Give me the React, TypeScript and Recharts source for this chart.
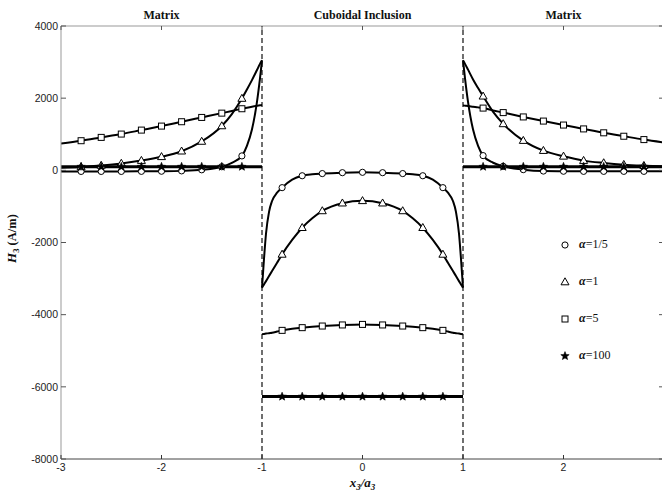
import React from "react";
import { ComposedChart, Line, XAxis, YAxis, ReferenceLine, Legend } from "recharts";

// x3/a3 sample points per region, and H3 (A/m) for each alpha
const LEFT_X = [-3, -2.8, -2.6, -2.4, -2.2, -2.0, -1.8, -1.6, -1.4, -1.3, -1.2, -1.15, -1.1, -1.05, -1.02, -1];
const LEFT_A1_5 = [-30, -30, -30, -30, -28, -25, -15, 15, 100, 210, 400, 680, 1130, 1900, 2550, 3050];
const LEFT_A1 = [75, 95, 135, 190, 270, 375, 530, 800, 1230, 1560, 1990, 2240, 2500, 2780, 2950, 3050];
const LEFT_A5 = [740, 821, 913, 1005, 1115, 1226, 1347, 1466, 1585, 1645, 1707, 1737, 1765, 1790, 1803, 1810];
const LEFT_A100 = [100, 100, 100, 100, 100, 100, 100, 100, 100, 100, 100, 100, 100, 100, 100, 100];

const MID_X = [-1, -0.98, -0.96, -0.93, -0.9, -0.85, -0.8, -0.7, -0.6, -0.5, -0.4, -0.2, 0, 0.2, 0.4, 0.5, 0.6, 0.7, 0.8, 0.85, 0.9, 0.93, 0.96, 0.98, 1];
const MID_A1_5 = [-3250, -2450, -1750, -1150, -850, -620, -480, -260, -150, -110, -90, -65, -55, -65, -90, -110, -150, -260, -480, -620, -850, -1150, -1750, -2450, -3250];
const MID_A1 = [-3250, -3160, -3070, -2930, -2790, -2560, -2330, -1930, -1590, -1330, -1125, -910, -845, -910, -1125, -1330, -1590, -1930, -2330, -2560, -2790, -2930, -3070, -3160, -3250];
const MID_A5 = [-4540, -4533, -4525, -4512, -4500, -4468, -4435, -4392, -4360, -4335, -4315, -4285, -4270, -4285, -4315, -4335, -4360, -4392, -4435, -4468, -4500, -4512, -4525, -4533, -4540];
const MID_A100 = [-6270, -6270, -6270, -6270, -6270, -6270, -6270, -6270, -6270, -6270, -6270, -6270, -6270, -6270, -6270, -6270, -6270, -6270, -6270, -6270, -6270, -6270, -6270, -6270, -6270];

const RIGHT_X = [1, 1.02, 1.05, 1.1, 1.15, 1.2, 1.3, 1.4, 1.6, 1.8, 2.0, 2.2, 2.4, 2.6, 2.8, 3];
const RIGHT_A1_5 = [3050, 2550, 1900, 1130, 680, 408, 210, 111, 19, -20, -25, -28, -28, -28, -28, -28];
const RIGHT_A1 = [3050, 2950, 2790, 2520, 2280, 2053, 1620, 1287, 824, 546, 388, 269, 205, 158, 130, 110];
const RIGHT_A5 = [1800, 1792, 1780, 1762, 1745, 1725, 1660, 1600, 1480, 1365, 1255, 1148, 1040, 945, 852, 770];
const RIGHT_A100 = [100, 100, 100, 100, 100, 100, 100, 100, 100, 100, 100, 100, 100, 100, 100, 100];

// where the symbols sit on the curves
const MARKER_X = [
  -2.8, -2.6, -2.4, -2.2, -2.0, -1.8, -1.6, -1.4, -1.2,
  -0.8, -0.6, -0.4, -0.2, 0, 0.2, 0.4, 0.6, 0.8,
  1.2, 1.4, 1.6, 1.8, 2.0, 2.2, 2.4, 2.6, 2.8,
];

const X_TICKS = [-3, -2, -1, 0, 1, 2, 3];
const X_LABELS = [-3, -2, -1, 0, 1, 2];
const Y_TICKS = [-8000, -6000, -4000, -2000, 0, 2000, 4000];
const REGION_AT = [-2, 0, 2];
const REGION_NAMES = ["Matrix", "Cuboidal Inclusion", "Matrix"];
const BOUNDARIES = [-1, 1];

const SERIES = [
  { key: "a1_5", label: "1/5", shape: "circle" },
  { key: "a1", label: "1", shape: "triangle" },
  { key: "a5", label: "5", shape: "square" },
  { key: "a100", label: "100", shape: "star" },
];

const buildRows = (xs: number[], a1_5: number[], a1: number[], a5: number[], a100: number[]) =>
  xs.map((x, i) => ({ x, a1_5: a1_5[i], a1: a1[i], a5: a5[i], a100: a100[i] }));

const REGIONS = [
  { id: "left", rows: buildRows(LEFT_X, LEFT_A1_5, LEFT_A1, LEFT_A5, LEFT_A100) },
  { id: "mid", rows: buildRows(MID_X, MID_A1_5, MID_A1, MID_A5, MID_A100) },
  { id: "right", rows: buildRows(RIGHT_X, RIGHT_A1_5, RIGHT_A1, RIGHT_A5, RIGHT_A100) },
];

const isMarker = (x: number) => MARKER_X.some((m) => Math.abs(m - x) < 1e-6);

const starPoints = (cx: number, cy: number, R: number, r: number) => {
  const pts: string[] = [];
  for (let i = 0; i < 10; i++) {
    const rad = i % 2 === 0 ? R : r;
    const a = -Math.PI / 2 + (i * Math.PI) / 5;
    pts.push(`${cx + rad * Math.cos(a)},${cy + rad * Math.sin(a)}`);
  }
  return pts.join(" ");
};

const Marker = ({ shape, cx, cy }: { shape: string; cx: number; cy: number }) => {
  if (shape === "circle")
    return <circle cx={cx} cy={cy} r={3.1} fill="#fff" stroke="#000" strokeWidth={1} />;
  if (shape === "triangle")
    return (
      <polygon
        points={`${cx},${cy - 4.2} ${cx - 4},${cy + 2.8} ${cx + 4},${cy + 2.8}`}
        fill="#fff"
        stroke="#000"
        strokeWidth={1}
      />
    );
  if (shape === "square")
    return <rect x={cx - 3} y={cy - 3} width={6} height={6} fill="#fff" stroke="#000" strokeWidth={1} />;
  return <polygon points={starPoints(cx, cy, 4.4, 1.9)} fill="#000" stroke="#000" strokeWidth={0.6} />;
};

const makeDot = (shape: string) => (p: any) => {
  const { cx, cy, payload, index } = p;
  if (!isMarker(payload.x)) return <g key={`d-${index}`} />;
  return <Marker key={`d-${index}`} shape={shape} cx={cx} cy={cy} />;
};

const tickFont = { fontFamily: "Liberation Sans, Arial, sans-serif", fontSize: 10.5, fill: "#222" };

const LeftTick = ({ x, y, payload }: any) => (
  <g>
    <line x1={x} x2={x + 5} y1={y} y2={y} stroke="#555" />
    <text x={x - 3} y={y} dy={3.7} textAnchor="end" {...tickFont}>
      {payload.value}
    </text>
  </g>
);

const RightTick = ({ x, y }: any) => <line x1={x - 5} x2={x} y1={y} y2={y} stroke="#555" />;

const BottomTick = ({ x, y, payload }: any) => (
  <g>
    <line x1={x} x2={x} y1={y} y2={y - 4} stroke="#333" />
    {X_LABELS.includes(payload.value) && (
      <text x={x} y={y + 12} textAnchor="middle" {...tickFont}>
        {payload.value}
      </text>
    )}
  </g>
);

const TopTick = ({ x, y, payload }: any) => {
  const idx = REGION_AT.indexOf(payload.value);
  return (
    <g>
      <line x1={x} x2={x} y1={y} y2={y + 4} stroke="#555" />
      {idx >= 0 && (
        <text
          x={x}
          y={y - 7}
          textAnchor="middle"
          fontFamily="Liberation Serif, Times New Roman, serif"
          fontWeight="bold"
          fontSize={12}
          fill="#111"
        >
          {REGION_NAMES[idx]}
        </text>
      )}
    </g>
  );
};

const XLabel = ({ viewBox }: any) => (
  <text
    x={viewBox.x + viewBox.width / 2}
    y={viewBox.y + 28}
    textAnchor="middle"
    fontFamily="Liberation Serif, Times New Roman, serif"
    fontWeight="bold"
    fontStyle="italic"
    fontSize={13}
    fill="#111"
  >
    x<tspan fontSize={9} dy={3}>3</tspan>
    <tspan dy={-3}>/a</tspan>
    <tspan fontSize={9} dy={3}>3</tspan>
  </text>
);

const YLabel = ({ viewBox }: any) => {
  const cx = 16;
  const cy = viewBox.y + viewBox.height / 2 - 4;
  return (
    <text
      x={cx}
      y={cy}
      transform={`rotate(-90 ${cx} ${cy})`}
      textAnchor="middle"
      fontFamily="Liberation Serif, Times New Roman, serif"
      fontWeight="bold"
      fontSize={12.5}
      fill="#111"
    >
      <tspan fontStyle="italic" fontSize={13}>H</tspan>
      <tspan fontSize={8.5} dy={3}>3</tspan>
      <tspan dy={-3}> (A/m)</tspan>
    </text>
  );
};

const LegendBox = () => (
  <div style={{ fontFamily: "Liberation Serif, Times New Roman, serif", fontSize: 12, color: "#111" }}>
    {SERIES.map((s) => (
      <div key={s.key} style={{ height: 37, display: "flex", alignItems: "center" }}>
        <svg width={12} height={12} style={{ marginRight: 8 }}>
          <Marker shape={s.shape} cx={6} cy={6} />
        </svg>
        <span>
          <i style={{ fontWeight: "bold" }}>α</i>={s.label}
        </span>
      </div>
    ))}
  </div>
);

export default function App() {
  return (
    <div style={{ position: "absolute", left: 0, top: 0, width: 662, height: 492, overflow: "hidden", background: "#fff" }}>
      <ComposedChart width={670} height={492} margin={{ top: 0, right: 0, bottom: 0, left: 1 }}>
        <XAxis
          dataKey="x"
          type="number"
          domain={[-3, 3]}
          ticks={X_TICKS}
          allowDataOverflow
          height={33}
          stroke="#444"
          tickSize={0}
          tickMargin={0}
          tick={<BottomTick />}
          label={<XLabel />}
        />
        <XAxis
          xAxisId="top"
          orientation="top"
          dataKey="x"
          type="number"
          domain={[-3, 3]}
          ticks={X_TICKS}
          allowDataOverflow
          height={26}
          stroke="#999"
          tickSize={0}
          tickMargin={0}
          tick={<TopTick />}
        />
        <YAxis
          type="number"
          domain={[-8000, 4000]}
          ticks={Y_TICKS}
          allowDataOverflow
          width={60}
          stroke="#999"
          tickSize={0}
          tickMargin={0}
          tick={<LeftTick />}
          label={<YLabel />}
        />
        <YAxis
          yAxisId="r"
          orientation="right"
          type="number"
          domain={[-8000, 4000]}
          ticks={Y_TICKS}
          allowDataOverflow
          width={6}
          stroke="#999"
          tickSize={0}
          tickMargin={0}
          tick={<RightTick />}
        />
        {BOUNDARIES.map((b) => (
          <ReferenceLine key={b} x={b} stroke="#222" strokeWidth={1.3} strokeDasharray="5 3" />
        ))}
        {REGIONS.flatMap((reg) =>
          SERIES.map((s) => (
            <Line
              key={`${reg.id}-${s.key}`}
              data={reg.rows}
              dataKey={s.key}
              type="monotone"
              stroke="#000"
              strokeWidth={s.shape === "star" ? 3 : 2}
              dot={makeDot(s.shape)}
              activeDot={false}
              isAnimationActive={false}
              legendType="none"
            />
          ))
        )}
        <Legend
          layout="vertical"
          align="center"
          verticalAlign="middle"
          content={<LegendBox />}
          wrapperStyle={{ left: 559, top: 226, width: 100 }}
        />
      </ComposedChart>
    </div>
  );
}
